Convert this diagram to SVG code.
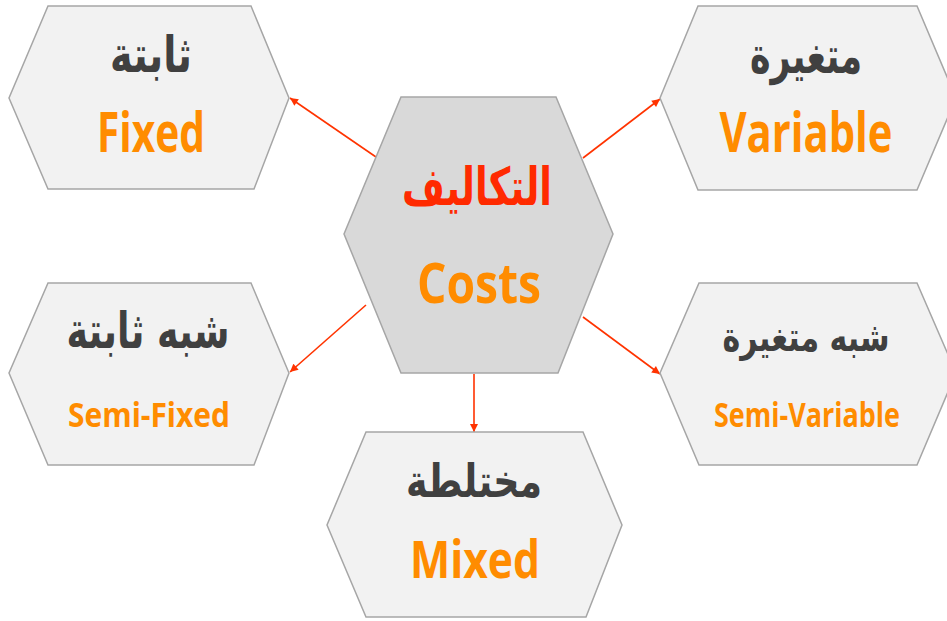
<svg xmlns="http://www.w3.org/2000/svg" width="947" height="621" viewBox="0 0 947 621">
<defs>
<style>
.hex{fill:#F2F2F2;stroke:#A6A6A6;stroke-width:1.5}
.hexc{fill:#D9D9D9;stroke:#A6A6A6;stroke-width:1.5}
.ar{font-family:"DejaVu Sans",sans-serif;font-weight:bold;fill:#404040;text-anchor:middle}
.en{font-family:"Open Sans",sans-serif;font-weight:bold;fill:#FF8C00;text-anchor:middle}
.conn{stroke:#FF3300;stroke-width:1.6;fill:none;marker-end:url(#ah)}
</style>
<marker id="ah" viewBox="0 0 10 10" refX="10" refY="5" markerWidth="9" markerHeight="8" markerUnits="userSpaceOnUse" orient="auto">
<path d="M0,0 L10,5 L0,10 z" fill="#FF3300"/>
</marker>
</defs>
<rect width="947" height="621" fill="#FFFFFF"/>
<g id="connectors">
<line class="conn" x1="376" y1="157" x2="290" y2="98"/>
<line class="conn" x1="583" y1="158" x2="660" y2="99"/>
<line class="conn" x1="366" y1="305" x2="290" y2="372"/>
<line class="conn" x1="583" y1="317" x2="660" y2="374"/>
<line class="conn" x1="474" y1="374" x2="474" y2="432"/>
</g>
<g id="costs">
<polygon class="hexc" points="401,97 556,97 613,234 558,373 401,373 344,234"/>
<text class="ar" x="477" y="205" font-size="52" style="fill:#FF2A00" textLength="150" lengthAdjust="spacingAndGlyphs">التكاليف</text>
<text class="en" x="479" y="303" font-size="56" textLength="124" lengthAdjust="spacingAndGlyphs">Costs</text>
</g>
<g id="fixed">
<polygon class="hex" points="48,6 251,6 289,98 254,189 48,189 9,98"/>
<text class="ar" x="151" y="72" font-size="50" textLength="82" lengthAdjust="spacingAndGlyphs">ثابتة</text>
<text class="en" x="151" y="152" font-size="55" textLength="108" lengthAdjust="spacingAndGlyphs">Fixed</text>
</g>
<g id="variable">
<polygon class="hex" points="698,6 917,6 956,98 917,190 698,190 660,98"/>
<text class="ar" x="806" y="73" font-size="50" textLength="112" lengthAdjust="spacingAndGlyphs">متغيرة</text>
<text class="en" x="806" y="152" font-size="55" textLength="173" lengthAdjust="spacingAndGlyphs">Variable</text>
</g>
<g id="semi-fixed">
<polygon class="hex" points="48,283 251,283 289,373 254,465 48,465 9,373"/>
<text class="ar" x="148" y="348" font-size="50" textLength="163" lengthAdjust="spacingAndGlyphs">شبه ثابتة</text>
<text class="en" x="149" y="427" font-size="34" textLength="162" lengthAdjust="spacingAndGlyphs">Semi-Fixed</text>
</g>
<g id="semi-variable">
<polygon class="hex" points="699,283 917,283 956,373 917,465 699,465 660,373"/>
<text class="ar" x="806" y="351" font-size="40" textLength="167" lengthAdjust="spacingAndGlyphs">شبه متغيرة</text>
<text class="en" x="807" y="427" font-size="34" textLength="186" lengthAdjust="spacingAndGlyphs">Semi-Variable</text>
</g>
<g id="mixed">
<polygon class="hex" points="366,432 583,432 622,525 586,617 366,617 327,525"/>
<text class="ar" x="474" y="497" font-size="46" textLength="136" lengthAdjust="spacingAndGlyphs">مختلطة</text>
<text class="en" x="475" y="578" font-size="52" textLength="130" lengthAdjust="spacingAndGlyphs">Mixed</text>
</g>
</svg>
